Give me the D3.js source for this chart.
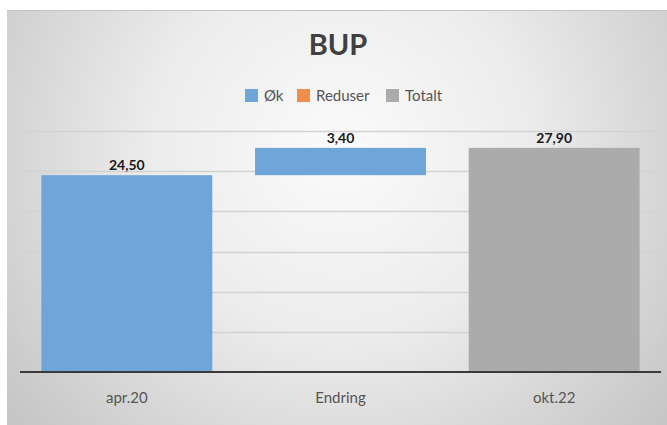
<!DOCTYPE html>
<html>
<head>
<meta charset="utf-8">
<script src="https://cdn.jsdelivr.net/npm/d3@7"></script>
<style>
  body { margin: 0; background: #fff; }
  text { font-family: Lato, "Open Sans", sans-serif; }
</style>
</head>
<body>
<div id="chart"></div>
<script>
// data
var categories = ["apr.20", "Endring", "okt.22"];
var values = [24.5, 3.4, 27.9];
var kinds = ["Øk", "Øk", "Totalt"];   // which series each bar belongs to
var legendNames = ["Øk", "Reduser", "Totalt"];
var legendColors = ["#6fa6d9", "#f08f4c", "#ababab"];
var yTicks = [0, 5, 10, 15, 20, 25, 30];

var width = 667, height = 425;

var svg = d3.select("#chart").append("svg")
    .attr("width", width)
    .attr("height", height);

// background panel with soft radial shading
var defs = svg.append("defs");
var grad = defs.append("radialGradient")
    .attr("id", "bg")
    .attr("gradientUnits", "userSpaceOnUse")
    .attr("cx", 340).attr("cy", 150).attr("r", 420);
grad.append("stop").attr("offset", "0%").attr("stop-color", "#fbfbfb");
grad.append("stop").attr("offset", "45%").attr("stop-color", "#ececec");
grad.append("stop").attr("offset", "100%").attr("stop-color", "#c6c6c6");

svg.append("rect")
    .attr("x", 7).attr("y", 10)
    .attr("width", width - 7).attr("height", height - 10)
    .attr("fill", "url(#bg)");
svg.append("line")
    .attr("x1", 7).attr("x2", width).attr("y1", 10.5).attr("y2", 10.5)
    .attr("stroke", "#c4c4c4");

// scales
var x = d3.scaleBand()
    .domain(categories)
    .range([20, 661])
    .paddingInner(0.2)
    .paddingOuter(0.1);

var y = d3.scaleLinear()
    .domain([0, 30])
    .range([372, 131]);

var color = d3.scaleOrdinal().domain(legendNames).range(legendColors);

// waterfall: running start/end for each bar
var running = 0;
var bars = categories.map(function(c, i) {
  var b;
  if (kinds[i] === "Totalt") {
    b = {cat: c, y0: 0, y1: values[i], v: values[i], kind: kinds[i]};
    running = values[i];
  } else if (i === 0) {
    b = {cat: c, y0: 0, y1: values[i], v: values[i], kind: kinds[i]};
    running = values[i];
  } else {
    b = {cat: c, y0: running, y1: running + values[i], v: values[i], kind: kinds[i]};
    running += values[i];
  }
  return b;
});

// gridlines
svg.append("g")
  .selectAll("line")
  .data(yTicks.filter(function(t) { return t > 0; }))
  .enter().append("line")
    .attr("x1", 20).attr("x2", 661)
    .attr("y1", function(d) { return Math.round(y(d)) + 0.5; })
    .attr("y2", function(d) { return Math.round(y(d)) + 0.5; })
    .attr("stroke", "#d2d2d2")
    .attr("stroke-width", 1.5);

// bars
svg.append("g")
  .selectAll("rect")
  .data(bars)
  .enter().append("rect")
    .attr("x", function(d) { return x(d.cat); })
    .attr("width", x.bandwidth())
    .attr("y", function(d) { return y(d.y1); })
    .attr("height", function(d) { return y(d.y0) - y(d.y1); })
    .attr("fill", function(d) { return color(d.kind); });

// baseline
svg.append("line")
    .attr("x1", 20).attr("x2", 661)
    .attr("y1", y(0)).attr("y2", y(0))
    .attr("stroke", "#3a3a3a")
    .attr("stroke-width", 2.2);

// value labels
svg.append("g")
  .selectAll("text")
  .data(bars)
  .enter().append("text")
    .attr("x", function(d) { return x(d.cat) + x.bandwidth() / 2; })
    .attr("y", function(d) { return y(d.y1) - 5; })
    .attr("text-anchor", "middle")
    .attr("font-size", 14)
    .attr("font-weight", "bold")
    .attr("fill", "#1a1a1a")
    .text(function(d) { return d.v.toFixed(2).replace(".", ","); });

// category labels
svg.append("g")
  .selectAll("text")
  .data(categories)
  .enter().append("text")
    .attr("x", function(d) { return x(d) + x.bandwidth() / 2; })
    .attr("y", 403)
    .attr("text-anchor", "middle")
    .attr("font-size", 15)
    .attr("fill", "#555")
    .text(function(d) { return d; });

// title
svg.append("text")
    .attr("x", 338).attr("y", 55)
    .attr("text-anchor", "middle")
    .attr("font-size", 29)
    .attr("font-weight", "bold")
    .attr("fill", "#404040")
    .text("BUP");

// legend
var legendX = [245, 297, 386];
var legend = svg.append("g")
  .selectAll("g")
  .data(legendNames)
  .enter().append("g")
    .attr("transform", function(d, i) { return "translate(" + legendX[i] + ",89)"; });
legend.append("rect")
    .attr("width", 13).attr("height", 13)
    .attr("fill", function(d) { return color(d); });
legend.append("text")
    .attr("x", 19).attr("y", 12)
    .attr("font-size", 15)
    .attr("fill", "#555")
    .text(function(d) { return d; });
</script>
</body>
</html>
